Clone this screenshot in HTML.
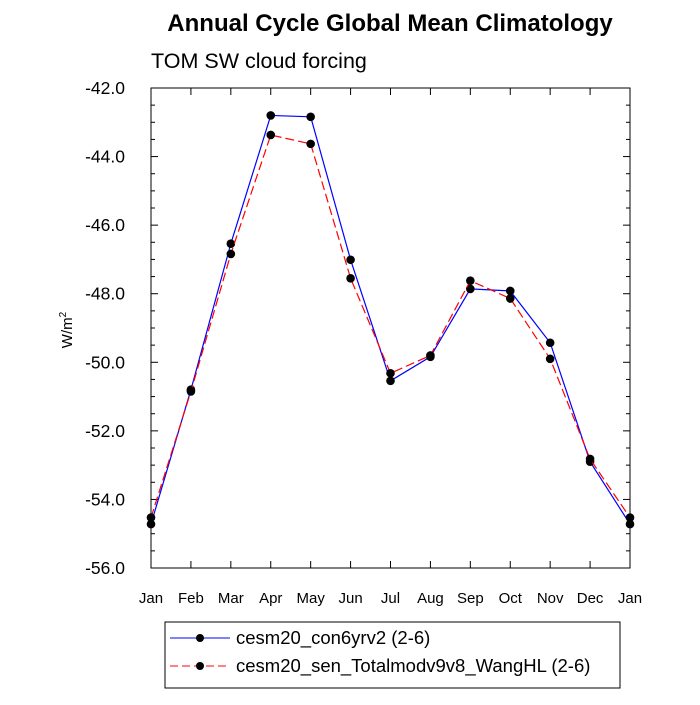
<!DOCTYPE html>
<html><head><meta charset="utf-8"><style>
body{margin:0;background:#fff;}
svg text{font-family:"Liberation Sans",Helvetica,sans-serif;}
</style></head><body>
<svg id="chart" width="700" height="700" xmlns="http://www.w3.org/2000/svg">
<text x="390" y="31" font-size="24" font-weight="bold" text-anchor="middle">Annual Cycle Global Mean Climatology</text>
<text x="151" y="68" font-size="21.5">TOM SW cloud forcing</text>
<text transform="translate(72,330) rotate(-90)" font-size="15" text-anchor="middle">W/m<tspan font-size="10" dy="-6">2</tspan></text>
<g id="axes"></g>
<g id="series"></g>
<rect x="165" y="622" width="455" height="66" fill="none" stroke="#000" stroke-width="1"/>
<g>
<line x1="170" y1="638" x2="230" y2="638" stroke="#0000ff" stroke-width="1"/>
<circle cx="200" cy="638" r="4" fill="#000"/>
<text x="236" y="644" font-size="18.5">cesm20_con6yrv2 (2-6)</text>
</g>
<g>
<line x1="170" y1="666" x2="230" y2="666" stroke="#ff0000" stroke-width="1" stroke-dasharray="8,4"/>
<circle cx="200" cy="666" r="4" fill="#000"/>
<text x="236" y="672" font-size="18.5">cesm20_sen_Totalmodv9v8_WangHL (2-6)</text>
</g>
</svg>
<script>
const months = ["Jan","Feb","Mar","Apr","May","Jun","Jul","Aug","Sep","Oct","Nov","Dec","Jan"];
const controlValues = [-54.72,-50.80,-46.54,-42.80,-42.84,-47.01,-50.54,-49.84,-47.86,-47.92,-49.43,-52.90,-54.72];
const sensValues = [-54.53,-50.85,-46.84,-43.37,-43.63,-47.55,-50.32,-49.80,-47.62,-48.14,-49.90,-52.82,-54.53];
const yTicks = [-42,-44,-46,-48,-50,-52,-54,-56];
const yMin=-56, yMax=-42;
const X0=151, X1=630, Y0=88, Y1=568;
const NS="http://www.w3.org/2000/svg";
function xs(i){return X0+(X1-X0)*i/(months.length-1);}
function ys(v){return Y0+(yMax-v)/(yMax-yMin)*(Y1-Y0);}
function mk(tag,attrs,parent){const e=document.createElementNS(NS,tag);for(const k in attrs)e.setAttribute(k,attrs[k]);parent.appendChild(e);return e;}
const axes=document.getElementById('axes');
const frame=mk('rect',{x:X0,y:Y0,width:X1-X0,height:Y1-Y0,fill:'none',stroke:'#000','stroke-width':1},axes);


for(let v=yMin; v<=yMax+0.001; v+=0.5){
  const y=ys(v); const major=Math.abs(v/2-Math.round(v/2))<0.01; const L=major?7:4;
  mk('line',{x1:X0,y1:y,x2:X0+L,y2:y,stroke:'#000','stroke-width':1},axes);
  mk('line',{x1:X1,y1:y,x2:X1-L,y2:y,stroke:'#000','stroke-width':1},axes);
}
yTicks.forEach(v=>{
  const t=mk('text',{x:X0-26,y:ys(v)+6,'font-size':17.5,'text-anchor':'end'},axes);
  t.textContent=v.toFixed(1);
  
  
});
months.forEach((m,i)=>{
  const x=xs(i);
  mk('line',{x1:x,y1:Y1,x2:x,y2:Y1-7,stroke:'#000','stroke-width':1},axes);
  mk('line',{x1:x,y1:Y0,x2:x,y2:Y0+7,stroke:'#000','stroke-width':1},axes);
  const t=mk('text',{x:x,y:Y1+35,'font-size':15,'text-anchor':'middle'},axes);
  t.textContent=m;
  
  
});
const series=document.getElementById('series');
function draw(vals,color,dash,name){
  const g=mk('g',{},series);
  
  
  const pts=vals.map((v,i)=>xs(i)+','+ys(v)).join(' ');
  const a={points:pts,fill:'none',stroke:color,'stroke-width':1.2};
  if(dash)a['stroke-dasharray']='9,4';
  mk('polyline',a,g);
  vals.forEach((v,i)=>{
    const c=mk('circle',{cx:xs(i),cy:ys(v),r:4.3,fill:'#000'},g);
    
    
  });
}
draw(controlValues,'#0000ff',false,'series-control');
draw(sensValues,'#ff0000',true,'series-sensitivity');
</script>
</body></html>
